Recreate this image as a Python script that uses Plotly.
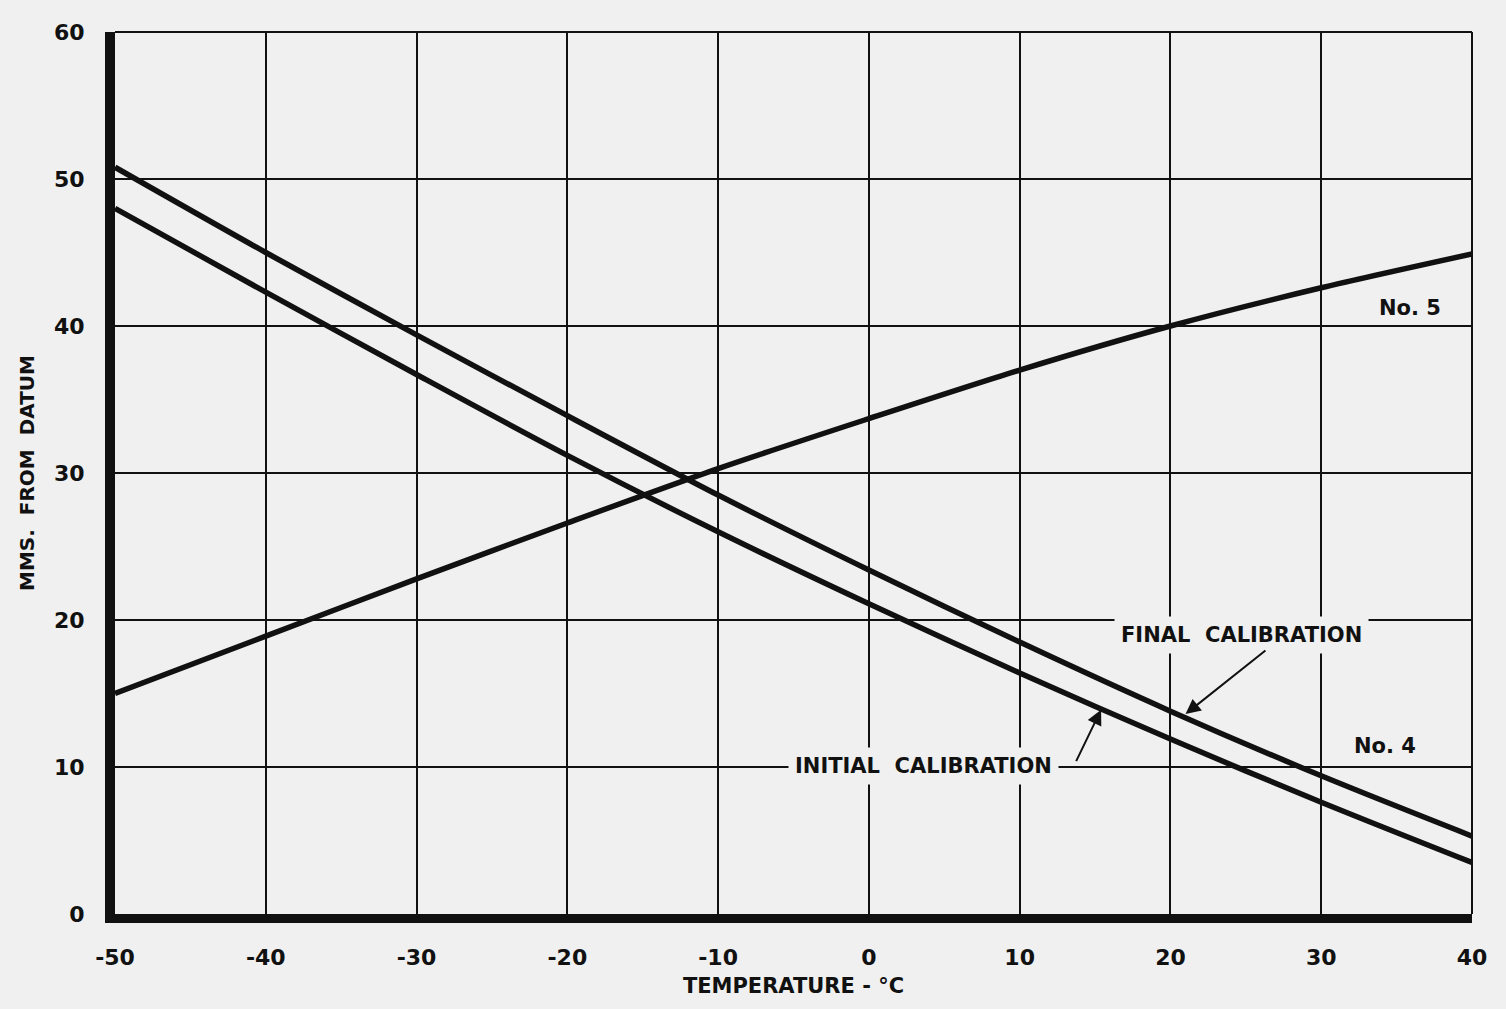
import plotly.graph_objects as go

# ---- data ----
temperature = [-50, -40, -30, -20, -10, 0, 10, 20, 30, 40]
no4_final = [50.8, 45.0, 39.4, 33.9, 28.5, 23.4, 18.5, 13.8, 9.4, 5.3]
no4_initial = [48.0, 42.3, 36.7, 31.2, 26.0, 21.1, 16.4, 11.9, 7.6, 3.5]
no5 = [15.0, 18.9, 22.8, 26.6, 30.3, 33.7, 37.0, 40.0, 42.6, 44.9]

x_ticks = [-50, -40, -30, -20, -10, 0, 10, 20, 30, 40]
x_tick_labels = ["-50", "-40", "-30", "-20", "-10", "0", "10", "20", "30", "40"]
y_ticks = [0, 10, 20, 30, 40, 50, 60]
y_tick_labels = ["0", "10", "20", "30", "40", "50", "60"]

BG = "#f0f0f0"
INK = "#111111"
FONT = "DejaVu Sans"

fig = go.Figure()
for name, ys in [("No. 4 final calibration", no4_final),
                 ("No. 4 initial calibration", no4_initial),
                 ("No. 5", no5)]:
    fig.add_trace(go.Scatter(
        x=temperature, y=ys, mode="lines", name=name,
        line=dict(color=INK, width=5.5, shape="spline", smoothing=0.8),
        showlegend=False, hoverinfo="x+y+name"))

fig.update_layout(
    width=1506, height=1009,
    margin=dict(l=115, r=34, t=32, b=91),
    paper_bgcolor=BG, plot_bgcolor=BG,
    font=dict(family=FONT, color=INK, size=20, weight="bold"),
    showlegend=False,
)

tick_font = dict(size=22, family=FONT, color=INK, weight="bold")
fig.update_xaxes(
    range=[-50, 40], tickvals=x_ticks, ticktext=x_tick_labels,
    showgrid=True, gridcolor=INK, gridwidth=2,
    showline=True, linecolor=INK, linewidth=9,
    zeroline=False, ticks="outside", ticklen=16, tickcolor="rgba(0,0,0,0)",
    tickfont=tick_font,
    title=dict(text="TEMPERATURE - °C",
               font=dict(size=21, family=FONT, color=INK, weight="bold"), standoff=12),
)
fig.update_yaxes(
    range=[0, 60], tickvals=y_ticks, ticktext=y_tick_labels,
    showgrid=True, gridcolor=INK, gridwidth=2,
    showline=True, linecolor=INK, linewidth=10,
    zeroline=False, ticks="outside", ticklen=16, tickcolor="rgba(0,0,0,0)",
    tickfont=tick_font,
    title=dict(text="MMS.  FROM  DATUM",
               font=dict(size=20, family=FONT, color=INK, weight="bold"), standoff=18),
)

# thin top and right frame lines (grid lines at 60 and 40)
fig.add_shape(type="line", xref="paper", yref="paper", x0=0, x1=1, y0=1, y1=1,
              line=dict(color=INK, width=2))
fig.add_shape(type="line", xref="paper", yref="paper", x0=1, x1=1, y0=0, y1=1,
              line=dict(color=INK, width=2))

lab_font = dict(size=21, family=FONT, color=INK, weight="bold")
fig.add_annotation(x=24.7, y=19.0, text="FINAL  CALIBRATION", showarrow=False,
                   font=lab_font, bgcolor=BG, borderpad=6)
fig.add_annotation(x=3.6, y=10.1, text="INITIAL  CALIBRATION", showarrow=False,
                   font=lab_font, bgcolor=BG, borderpad=6)
fig.add_annotation(x=35.9, y=41.2, text="No. 5", showarrow=False, font=lab_font)
fig.add_annotation(x=34.2, y=11.4, text="No. 4", showarrow=False, font=lab_font)

# arrows
fig.add_annotation(x=21.0, y=13.6, ax=26.4, ay=18.0, axref="x", ayref="y",
                   xref="x", yref="y", text="", showarrow=True,
                   arrowhead=2, arrowsize=1.5, arrowwidth=2, arrowcolor=INK)
fig.add_annotation(x=15.4, y=13.9, ax=13.7, ay=10.3, axref="x", ayref="y",
                   xref="x", yref="y", text="", showarrow=True,
                   arrowhead=2, arrowsize=1.5, arrowwidth=2, arrowcolor=INK)

fig.write_html("out.html", config={"displayModeBar": False},
               post_script="document.body.style.margin='0';")
